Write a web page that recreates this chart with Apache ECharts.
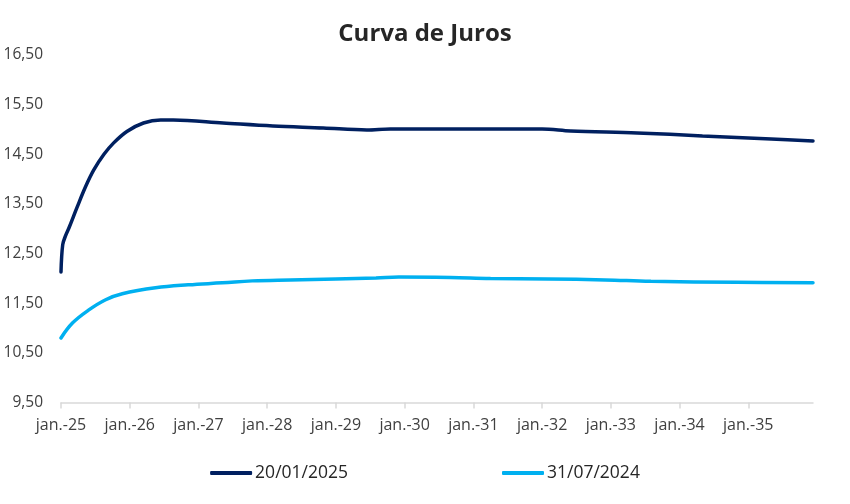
<!DOCTYPE html>
<html>
<head>
<meta charset="utf-8">
<script src="https://cdn.jsdelivr.net/npm/echarts@6/dist/echarts.min.js"></script>
<style>
html,body{margin:0;padding:0;background:#fff;}
#chart{width:850px;height:504px;}
</style>
</head>
<body>
<div id="chart"></div>
<script>
// X values: months since January 2025
var tickMonths = [0, 12, 24, 36, 48, 60, 72, 84, 96, 108, 120];
var tickLabels = ['jan.-25','jan.-26','jan.-27','jan.-28','jan.-29','jan.-30','jan.-31','jan.-32','jan.-33','jan.-34','jan.-35'];
var yTicks = [9.5, 10.5, 11.5, 12.5, 13.5, 14.5, 15.5, 16.5];

var seriesNames = ['20/01/2025', '31/07/2024'];

var monthsA = [0, 0.3, 0.8, 1.4, 2.8, 4.3, 5.7, 7.5, 9.2, 11.5, 14.4, 17.4, 19.6, 28.3, 37.0, 45.8, 53.4, 57.5, 72, 84, 89, 100.6, 112, 124, 131.3];
var ratesA  = [12.13, 12.68, 12.86, 13.02, 13.43, 13.85, 14.18, 14.50, 14.73, 14.96, 15.13, 15.19, 15.19, 15.13, 15.07, 15.03, 14.99, 15.01, 15.01, 15.01, 14.97, 14.93, 14.87, 14.81, 14.77];

var monthsB = [0, 2, 4.8, 7.8, 10.7, 16.5, 22.2, 28.2, 33.4, 40, 48, 55, 59, 68, 75, 85, 95, 103, 118, 131.3];
var ratesB  = [10.80, 11.10, 11.36, 11.57, 11.69, 11.81, 11.87, 11.91, 11.95, 11.97, 11.99, 12.01, 12.03, 12.02, 12.00, 11.99, 11.97, 11.94, 11.92, 11.91];

function pairs(xs, ys){ return xs.map(function(x,i){ return [x, ys[i]]; }); }

var chart = echarts.init(document.getElementById('chart'), null, {renderer:'canvas'});
var FONT = '"Open Sans", "Noto Sans", sans-serif';
chart.setOption({
  animation: false,
  textStyle: {fontFamily: FONT},
  title: {
    text: 'Curva de Juros',
    left: 'center',
    top: 17,
    textStyle: {fontFamily: FONT, fontSize: 24, fontWeight: 'bold', color: '#262626'}
  },
  legend: {
    bottom: 17,
    left: 'center',
    itemWidth: 42,
    itemHeight: 4,
    itemGap: 154,
    icon: 'roundRect',
    textStyle: {fontFamily: FONT, fontSize: 17.5, color: '#262626', padding: [0,0,0,-2]},
    data: seriesNames
  },
  grid: {left: 61, right: 37, top: 55, bottom: 101.5, containLabel: false},
  xAxis: {
    type: 'value',
    min: 0,
    max: 131.3,
    axisLine: {show: true, lineStyle: {color: '#d9d9d9', width: 1.5}},
    axisTick: {show: true, length: 6, lineStyle: {color: '#d9d9d9', width: 1.5}, customValues: tickMonths},
    axisLabel: {
      customValues: tickMonths,
      formatter: function(v){ var i = tickMonths.indexOf(v); return i >= 0 ? tickLabels[i] : ''; },
      fontFamily: FONT, fontSize: 16, color: '#404040', margin: 15
    },
    splitLine: {show: false}
  },
  yAxis: {
    type: 'value',
    min: 9.5,
    max: 16.5,
    interval: 1,
    axisLine: {show: false},
    axisTick: {show: false},
    splitLine: {show: false},
    axisLabel: {
      formatter: function(v){ return v.toFixed(2).replace('.', ','); },
      fontFamily: FONT, fontSize: 15.5, color: '#404040', margin: 18
    }
  },
  series: [
    {
      name: seriesNames[0], type: 'line', smooth: 0.35, showSymbol: false,
      lineStyle: {color: '#002060', width: 3.5, cap: 'round'},
      itemStyle: {color: '#002060'},
      data: pairs(monthsA, ratesA)
    },
    {
      name: seriesNames[1], type: 'line', smooth: 0.4, showSymbol: false,
      lineStyle: {color: '#00b0f0', width: 3.5, cap: 'round'},
      itemStyle: {color: '#00b0f0'},
      data: pairs(monthsB, ratesB)
    }
  ]
});
</script>
</body>
</html>
